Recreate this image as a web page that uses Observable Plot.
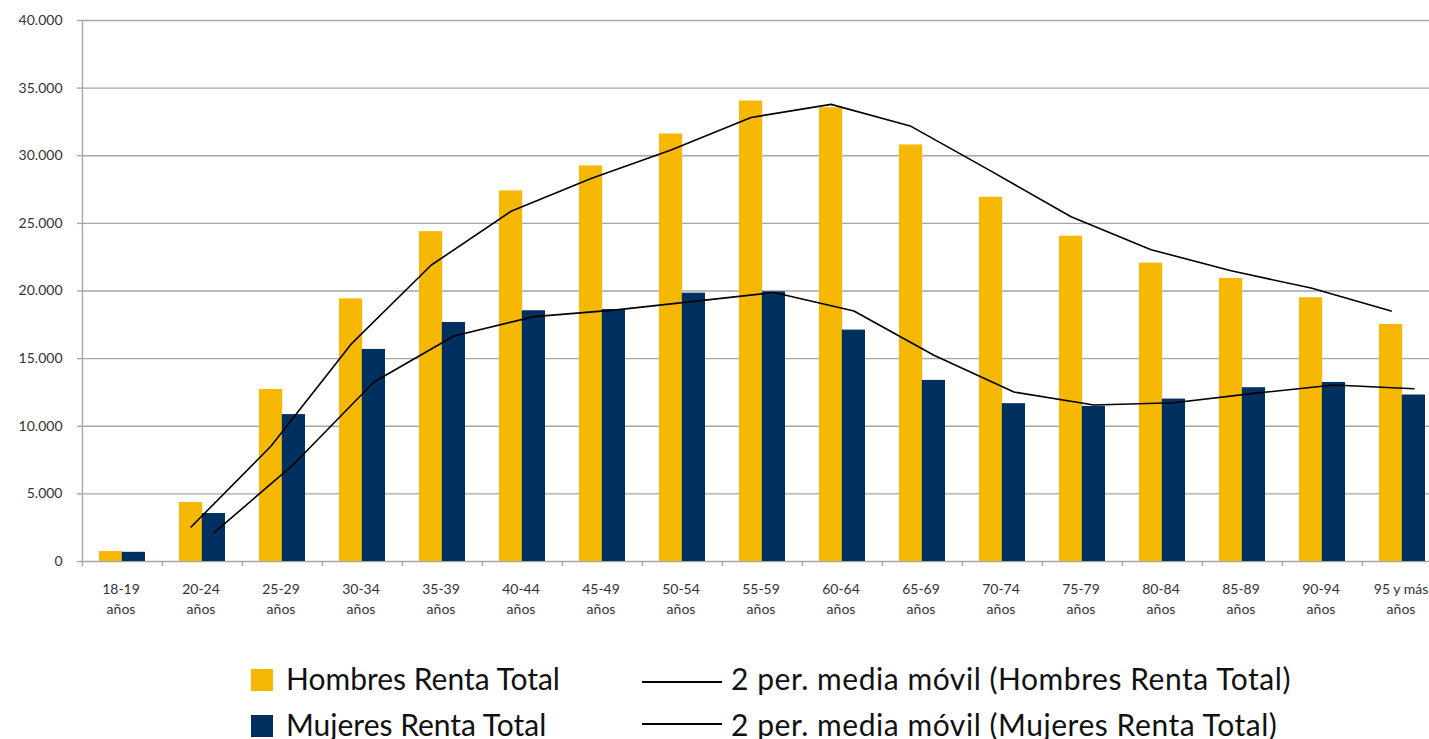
<!DOCTYPE html>
<html>
<head>
<meta charset="utf-8">
<script src="https://cdn.jsdelivr.net/npm/d3@7"></script>
<script src="https://cdn.jsdelivr.net/npm/@observablehq/plot@0.6"></script>
<style>
  html, body { margin: 0; padding: 0; background: #fff; overflow: hidden; width: 1429px; height: 739px; }
  #chart { position: absolute; left: 0; top: 0; width: 1443px; }
  #chart svg { max-width: none !important; width: 1443px; height: 625px; }
  .leg { position: absolute; font-family: Lato, "Open Sans", sans-serif; font-size: 30px; color: #111; white-space: nowrap; line-height: 1; }
  .wide { letter-spacing: 0.55px; }
  .sw { position: absolute; width: 22px; height: 22px; }
  .ln { position: absolute; width: 80px; height: 0; border-top: 2px solid #000; }
</style>
</head>
<body>
<div id="chart"></div>
<div class="sw" style="left:251px; top:669px; background:#F7B805;"></div>
<div class="leg" style="left:286px; top:663px;">Hombres Renta Total</div>
<div class="sw" style="left:251px; top:715px; background:#00305F;"></div>
<div class="leg" style="left:286px; top:709px;">Mujeres Renta Total</div>
<div class="ln" style="left:642px; top:681px;"></div>
<div class="leg wide" style="left:731px; top:663px;">2 per. media móvil (Hombres Renta Total)</div>
<div class="ln" style="left:642px; top:723px;"></div>
<div class="leg wide" style="left:731px; top:709px;">2 per. media móvil (Mujeres Renta Total)</div>
<script>
// ---- Data ----
const categories = ["18-19", "20-24", "25-29", "30-34", "35-39", "40-44", "45-49", "50-54", "55-59", "60-64", "65-69", "70-74", "75-79", "80-84", "85-89", "90-94", "95 y más"];
const xTickLabels = ["18-19\naños", "20-24\naños", "25-29\naños", "30-34\naños", "35-39\naños", "40-44\naños", "45-49\naños", "50-54\naños", "55-59\naños", "60-64\naños", "65-69\naños", "70-74\naños", "75-79\naños", "80-84\naños", "85-89\naños", "90-94\naños", "95 y más\naños"];
const hombres = [740, 4360, 12720, 19420, 24390, 27400, 29250, 31610, 34050, 33550, 30800, 26930, 24050, 22060, 20930, 19500, 17530];
const mujeres = [680, 3550, 10860, 15680, 17670, 18540, 18630, 19840, 19940, 17110, 13390, 11670, 11470, 12010, 12850, 13240, 12310];
const yTicks = [0, 5000, 10000, 15000, 20000, 25000, 30000, 35000, 40000];

const rows = categories.map((c, i) => ({cat: c, h: hombres[i], m: mujeres[i]}));

const yellow = "#F7B805";
const navy = "#00305F";
const grid = "#A6A6A6";

const W = 1443, H = 625, mL = 81, mR = 0, mT = 20, mB = 64;
const step = (W - mL - mR) / categories.length;
const padInner = 0.43;
const bw = step * (1 - padInner);
const plotH = H - mT - mB;

const es = d3.formatLocale({decimal: ",", thousands: ".", grouping: [3], currency: ["", "€"]});
const fmt = es.format(",d");

const chart = Plot.plot({
  width: W,
  height: H,
  marginLeft: mL,
  marginRight: mR,
  marginTop: mT,
  marginBottom: mB,
  style: {fontFamily: "Lato, 'Open Sans', sans-serif", background: "#fff", maxWidth: "none"},
  x: {domain: categories, paddingInner: padInner, paddingOuter: padInner / 2, axis: null},
  y: {domain: [0, 40000], axis: null},
  marks: [
    Plot.ruleY(yTicks, {stroke: grid, strokeWidth: 1.4}),
    Plot.axisY(yTicks, {tickSize: 4, tickPadding: 15, tickFormat: fmt, stroke: grid, strokeWidth: 1.4, fill: "#333", fontSize: 14}),
    Plot.ruleX([categories[0]], {dx: -step / 2, stroke: grid, strokeWidth: 1.4}),
    Plot.ruleX(categories, {dx: -step / 2, stroke: grid, strokeWidth: 1.4, insetTop: plotH, insetBottom: -5}),
    Plot.barY(rows, {x: "cat", y: "h", fill: yellow, insetRight: bw / 2}),
    Plot.barY(rows, {x: "cat", y: "m", fill: navy, insetLeft: bw / 2}),
    Plot.lineY(rows, Plot.windowY({k: 2, anchor: "end", strict: true}, {x: "cat", y: "h", stroke: "#000", strokeWidth: 1.6, dx: -bw / 4})),
    Plot.lineY(rows, Plot.windowY({k: 2, anchor: "end", strict: true}, {x: "cat", y: "m", stroke: "#000", strokeWidth: 1.6, dx: bw / 4})),
    Plot.text(categories, {x: d => d, text: (d, i) => xTickLabels[i], frameAnchor: "bottom", lineAnchor: "top", dy: 18, dx: -1.5, lineHeight: 1.45, fontSize: 14, fill: "#333"})
  ]
});
document.getElementById("chart").appendChild(chart);
</script>
</body>
</html>
